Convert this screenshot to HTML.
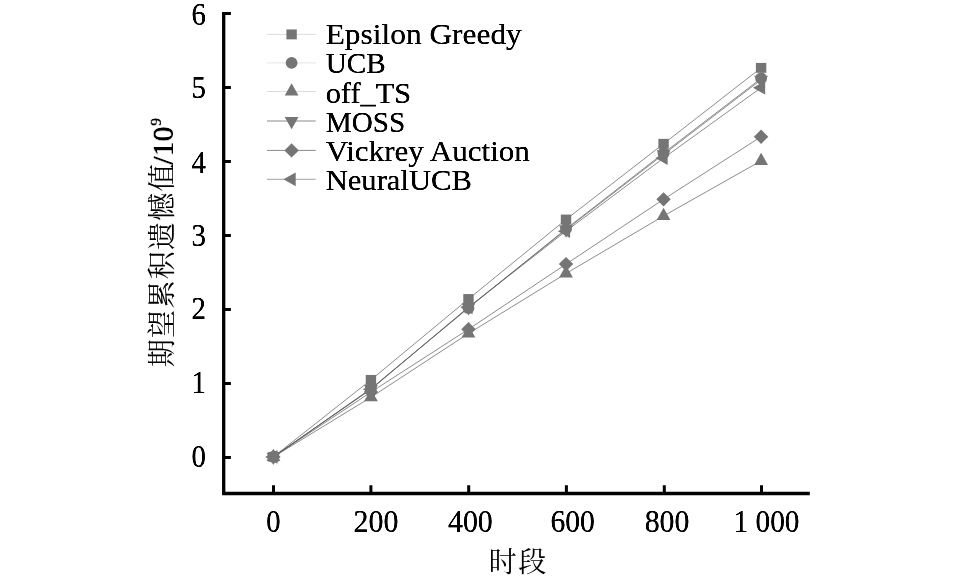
<!DOCTYPE html>
<html lang="zh"><head><meta charset="utf-8"><title>期望累积遗憾值</title>
<style>
html,body{margin:0;padding:0;background:#fff}
svg{display:block}
.lat{font-family:"Liberation Serif","Noto Serif CJK SC",serif;font-size:31px;fill:#000;filter:url(#hb)}
.cjk{font-family:"Noto Serif CJK SC","Liberation Serif",serif;font-size:28px;fill:#000}
</style></head><body>
<svg width="957" height="579" viewBox="0 0 957 579">
<defs><filter id="hb" x="-10%" y="-30%" width="120%" height="160%"><feGaussianBlur stdDeviation="0.4 0"/><feComponentTransfer><feFuncA type="linear" slope="1.55" intercept="0"/></feComponentTransfer></filter></defs>
<rect width="957" height="579" fill="#fff"/>
<polyline points="273.40,456.88 370.94,379.91 468.48,299.02 566.02,219.53 663.56,143.81 761.10,67.88" fill="none" stroke="#5a5a5a" stroke-width="0.7"/>
<polyline points="273.40,456.88 370.94,388.63 468.48,308.04 566.02,228.92 663.56,153.13 761.10,78.45" fill="none" stroke="#5a5a5a" stroke-width="0.7"/>
<polyline points="273.40,456.88 370.94,397.29 468.48,333.47 566.02,273.51 663.56,215.98 761.10,160.82" fill="none" stroke="#5a5a5a" stroke-width="0.7"/>
<polyline points="273.40,456.88 370.94,389.00 468.48,307.30 566.02,229.66 663.56,154.39 761.10,79.78" fill="none" stroke="#5a5a5a" stroke-width="0.7"/>
<polyline points="273.40,456.88 370.94,392.11 468.48,329.26 566.02,264.12 663.56,199.34 761.10,136.71" fill="none" stroke="#5a5a5a" stroke-width="0.7"/>
<polyline points="273.40,456.88 370.94,389.37 468.48,307.30 566.02,231.14 663.56,158.08 761.10,87.69" fill="none" stroke="#5a5a5a" stroke-width="0.7"/>
<rect x="268.20" y="451.93" width="10.40" height="9.90" fill="#757575"/>
<rect x="365.74" y="374.96" width="10.40" height="9.90" fill="#757575"/>
<rect x="463.28" y="294.07" width="10.40" height="9.90" fill="#757575"/>
<rect x="560.82" y="214.58" width="10.40" height="9.90" fill="#757575"/>
<rect x="658.36" y="138.86" width="10.40" height="9.90" fill="#757575"/>
<rect x="755.90" y="62.93" width="10.40" height="9.90" fill="#757575"/>
<circle cx="273.40" cy="456.88" r="5.9" fill="#757575"/>
<circle cx="370.94" cy="388.63" r="5.9" fill="#757575"/>
<circle cx="468.48" cy="308.04" r="5.9" fill="#757575"/>
<circle cx="566.02" cy="228.92" r="5.9" fill="#757575"/>
<circle cx="663.56" cy="153.13" r="5.9" fill="#757575"/>
<circle cx="761.10" cy="78.45" r="5.9" fill="#757575"/>
<polygon points="273.40,448.75 266.50,460.95 280.30,460.95" fill="#757575"/>
<polygon points="370.94,389.15 364.04,401.35 377.84,401.35" fill="#757575"/>
<polygon points="468.48,325.34 461.58,337.54 475.38,337.54" fill="#757575"/>
<polygon points="566.02,265.37 559.12,277.57 572.92,277.57" fill="#757575"/>
<polygon points="663.56,207.85 656.66,220.05 670.46,220.05" fill="#757575"/>
<polygon points="761.10,152.69 754.20,164.89 768.00,164.89" fill="#757575"/>
<polygon points="273.40,465.02 266.50,452.82 280.30,452.82" fill="#757575"/>
<polygon points="370.94,397.14 364.04,384.94 377.84,384.94" fill="#757575"/>
<polygon points="468.48,315.43 461.58,303.23 475.38,303.23" fill="#757575"/>
<polygon points="566.02,237.79 559.12,225.59 572.92,225.59" fill="#757575"/>
<polygon points="663.56,162.52 656.66,150.32 670.46,150.32" fill="#757575"/>
<polygon points="761.10,87.91 754.20,75.71 768.00,75.71" fill="#757575"/>
<polygon points="273.40,449.68 280.60,456.88 273.40,464.08 266.20,456.88" fill="#757575"/>
<polygon points="370.94,384.91 378.14,392.11 370.94,399.31 363.74,392.11" fill="#757575"/>
<polygon points="468.48,322.06 475.68,329.26 468.48,336.46 461.28,329.26" fill="#757575"/>
<polygon points="566.02,256.92 573.22,264.12 566.02,271.32 558.82,264.12" fill="#757575"/>
<polygon points="663.56,192.14 670.76,199.34 663.56,206.54 656.36,199.34" fill="#757575"/>
<polygon points="761.10,129.51 768.30,136.71 761.10,143.91 753.90,136.71" fill="#757575"/>
<polygon points="265.27,456.88 277.47,449.98 277.47,463.78" fill="#757575"/>
<polygon points="362.81,389.37 375.01,382.47 375.01,396.27" fill="#757575"/>
<polygon points="460.35,307.30 472.55,300.40 472.55,314.20" fill="#757575"/>
<polygon points="557.89,231.14 570.09,224.24 570.09,238.04" fill="#757575"/>
<polygon points="655.43,158.08 667.63,151.18 667.63,164.98" fill="#757575"/>
<polygon points="752.97,87.69 765.17,80.79 765.17,94.59" fill="#757575"/>
<path d="M223.7,11.9 V493.5 M222.05,493.5 H809.8" stroke="#000" stroke-width="3.3" fill="none"/>
<path d="M225,457.45 H230.9 M225,383.46 H230.9 M225,309.47 H230.9 M225,235.47 H230.9 M225,161.48 H230.9 M225,87.49 H230.9 M225,13.50 H230.9 M273.50,492.5 V485.2 M370.90,492.5 V485.2 M468.70,492.5 V485.2 M566.40,492.5 V485.2 M664.30,492.5 V485.2 M761.50,492.5 V485.2" stroke="#000" stroke-width="3.0" fill="none"/>
<text class="lat" x="191.4" y="467.00" textLength="14.4" lengthAdjust="spacingAndGlyphs">0</text>
<text class="lat" x="191.4" y="392.70" textLength="14.4" lengthAdjust="spacingAndGlyphs">1</text>
<text class="lat" x="191.4" y="319.10" textLength="14.4" lengthAdjust="spacingAndGlyphs">2</text>
<text class="lat" x="191.4" y="245.80" textLength="14.4" lengthAdjust="spacingAndGlyphs">3</text>
<text class="lat" x="191.4" y="172.50" textLength="14.4" lengthAdjust="spacingAndGlyphs">4</text>
<text class="lat" x="191.4" y="98.30" textLength="14.4" lengthAdjust="spacingAndGlyphs">5</text>
<text class="lat" x="191.4" y="25.00" textLength="14.4" lengthAdjust="spacingAndGlyphs">6</text>
<text class="lat" x="266.15" y="531.8" textLength="14.3" lengthAdjust="spacingAndGlyphs">0</text>
<text class="lat" x="353.50" y="531.8" textLength="45.0" lengthAdjust="spacingAndGlyphs">200</text>
<text class="lat" x="448.00" y="531.8" textLength="44.8" lengthAdjust="spacingAndGlyphs">400</text>
<text class="lat" x="550.40" y="531.8" textLength="44.4" lengthAdjust="spacingAndGlyphs">600</text>
<text class="lat" x="644.70" y="531.8" textLength="44.8" lengthAdjust="spacingAndGlyphs">800</text>
<text class="lat" x="733.50" y="531.8" textLength="66.0" lengthAdjust="spacingAndGlyphs">1 000</text>
<text class="cjk" x="488.7" y="571.5" style="letter-spacing:1.5px">时段</text>
<g transform="translate(171.8,367.2) rotate(-90)"><text class="cjk" x="0" y="0" style="letter-spacing:1.3px">期望累积遗憾值</text><text class="lat" style="font-size:30px" x="202.5" y="0.6" textLength="38" lengthAdjust="spacingAndGlyphs">/10</text><text class="lat" style="font-size:15px" x="241.5" y="-11.4">9</text></g>
<line x1="267" y1="34.4" x2="315.7" y2="34.4" stroke="#dcdcdc" stroke-width="1"/>
<rect x="286.40" y="29.45" width="10.40" height="9.90" fill="#757575"/>
<text class="lat" style="font-size:29.5px" x="325.7" y="44.3" textLength="196.1" lengthAdjust="spacingAndGlyphs">Epsilon Greedy</text>
<line x1="267" y1="62.9" x2="315.7" y2="62.9" stroke="#e4e4e4" stroke-width="1"/>
<circle cx="291.60" cy="62.90" r="5.9" fill="#757575"/>
<text class="lat" style="font-size:29.5px" x="325.7" y="73.4" textLength="60.0" lengthAdjust="spacingAndGlyphs">UCB</text>
<line x1="267" y1="91.5" x2="315.7" y2="91.5" stroke="#dcdcdc" stroke-width="1"/>
<polygon points="291.60,83.37 284.70,95.57 298.50,95.57" fill="#757575"/>
<text class="lat" style="font-size:29.5px" x="325.7" y="102.6" textLength="85.4" lengthAdjust="spacingAndGlyphs">off_TS</text>
<line x1="267" y1="121.0" x2="315.7" y2="121.0" stroke="#8a8a8a" stroke-width="1"/>
<polygon points="291.60,129.13 284.70,116.93 298.50,116.93" fill="#757575"/>
<text class="lat" style="font-size:29.5px" x="325.7" y="132.0" textLength="79.6" lengthAdjust="spacingAndGlyphs">MOSS</text>
<line x1="267" y1="150.4" x2="315.7" y2="150.4" stroke="#8a8a8a" stroke-width="1"/>
<polygon points="291.60,143.20 298.80,150.40 291.60,157.60 284.40,150.40" fill="#757575"/>
<text class="lat" style="font-size:29.5px" x="325.7" y="160.8" textLength="204.2" lengthAdjust="spacingAndGlyphs">Vickrey Auction</text>
<line x1="267" y1="179.3" x2="315.7" y2="179.3" stroke="#a0a0a0" stroke-width="1"/>
<polygon points="283.47,179.30 295.67,172.40 295.67,186.20" fill="#757575"/>
<text class="lat" style="font-size:29.5px" x="325.7" y="189.8" textLength="146.1" lengthAdjust="spacingAndGlyphs">NeuralUCB</text>
</svg></body></html>
